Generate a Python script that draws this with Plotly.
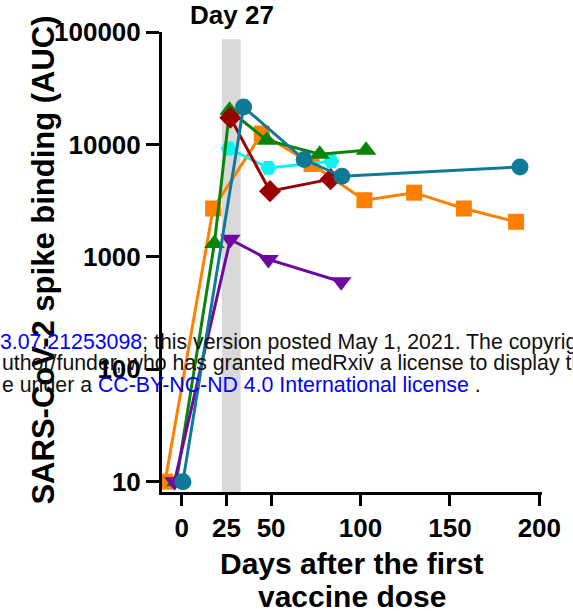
import plotly.graph_objects as go

# ---- data (days after first dose, spike binding AUC) ----
orange_days = [-9.3, 17.6, 44.8, 72.6, 102.2, 130.0, 157.8, 187.0]
orange_auc = [10, 2690, 12500, 6700, 3190, 3720, 2690, 2050]

cyan_days = [26.3, 48.5, 83.7]
cyan_auc = [9200, 6180, 7090]

green_days = [-3.0, 18.3, 26.8, 47.6, 77.2, 103.1]
green_auc = [10, 1315, 20100, 10900, 8180, 8870]

red_days = [27.2, 49.4, 83.3]
red_auc = [17300, 3840, 4910]

purple_days = [-4.0, 27.2, 48.5, 89.2]
purple_auc = [10, 1430, 948, 600]

teal_days = [0.7, 34.6, 68.5, 89.6, 189.2]
teal_auc = [10, 21500, 7340, 5210, 6310]

x_tickvals = [0, 25, 50, 100, 150, 200]
y_tickvals = [10, 100, 1000, 10000, 100000]
y_ticktext = ["10", "100", "1000", "10000", "100000"]

band_days = [22.5, 33.0]

FONT = "Liberation Sans, Arial, Helvetica, sans-serif"

series = [
    (orange_days, orange_auc, "#ff8000", "square", 16),
    (cyan_days, cyan_auc, "#10f2f2", "hexagon2", 16),
    (green_days, green_auc, "#0a850a", "triangle-up", 18),
    (red_days, red_auc, "#9a0000", "diamond", 17),
    (purple_days, purple_auc, "#6e0aa0", "triangle-down", 18),
    (teal_days, teal_auc, "#107a96", "circle", 17),
]

fig = go.Figure()
for xs, ys, col, sym, sz in series:
    fig.add_trace(go.Scatter(
        x=xs, y=ys, mode="lines+markers",
        line=dict(color=col, width=3),
        marker=dict(symbol=sym, size=sz, color=col, line=dict(width=0)),
        showlegend=False,
    ))

fig.add_shape(type="rect", xref="x", yref="y domain",
              x0=band_days[0], x1=band_days[1], y0=0, y1=0.984,
              fillcolor="#d9d9d9", line=dict(width=0), layer="below")

L, R, T, B = 162, 26, 32, 119
W, H = 573, 611
pw, ph = W - L - R, H - T - B


def px_x(p):
    return (p - L) / pw


def px_y(p):
    return (H - B - p) / ph


bold = dict(family=FONT, size=26, color="black", weight="bold")

fig.update_layout(
    width=W, height=H,
    margin=dict(l=L, r=R, t=T, b=B, pad=0),
    paper_bgcolor="white", plot_bgcolor="white",
    xaxis=dict(range=[-11, 201.5], tickvals=x_tickvals,
               showline=True, linewidth=3, linecolor="black",
               ticks="outside", ticklen=11, tickwidth=3, tickcolor="black",
               showgrid=False, zeroline=False, tickfont=bold),
    yaxis=dict(type="log", range=[0.908, 5], tickvals=y_tickvals, ticktext=y_ticktext,
               showline=True, linewidth=3, linecolor="black",
               ticks="outside", ticklen=13, tickwidth=3, tickcolor="black",
               showgrid=False, zeroline=False, tickfont=bold),
)

ann = []
ann.append(dict(text="Day 27", xref="x", yref="paper", x=28, y=px_y(15),
                showarrow=False, xanchor="center", yanchor="middle",
                font=dict(family=FONT, size=26, color="black", weight="bold")))
ann.append(dict(text="SARS-CoV-2 spike binding (AUC)", xref="paper", yref="paper",
                x=px_x(41), y=px_y(260), textangle=-90, showarrow=False,
                xanchor="center", yanchor="middle",
                font=dict(family=FONT, size=31, color="black", weight="bold")))
ann.append(dict(text="Days after the first", xref="paper", yref="paper",
                x=px_x(354), y=px_y(563), showarrow=False,
                xanchor="center", yanchor="middle",
                font=dict(family=FONT, size=30, color="black", weight="bold")))
ann.append(dict(text="vaccine dose", xref="paper", yref="paper",
                x=px_x(354), y=px_y(596), showarrow=False,
                xanchor="center", yanchor="middle",
                font=dict(family=FONT, size=30, color="black", weight="bold")))

wm_font = dict(family=FONT, size=21.3, color="#111111")
blue = "<span style='color:#0000ff'>%s</span>"
wm_lines = [
    (blue % "3.07.21253098" + "; this version posted May 1, 2021. The copyright holder for this preprint", -4, 342),
    ("uthor/funder, who has granted medRxiv a license to display the preprint in perpetuity.", -2, 363),
    ("e under a " + blue % "CC-BY-NC-ND 4.0 International license" + " .", -2, 385),
]
for txt, xp, yp in wm_lines:
    ann.append(dict(text=txt, xref="paper", yref="paper", x=px_x(xp), y=px_y(yp),
                    showarrow=False, xanchor="left", yanchor="middle", font=wm_font))

fig.update_layout(annotations=ann)

fig.write_html("out.html")
